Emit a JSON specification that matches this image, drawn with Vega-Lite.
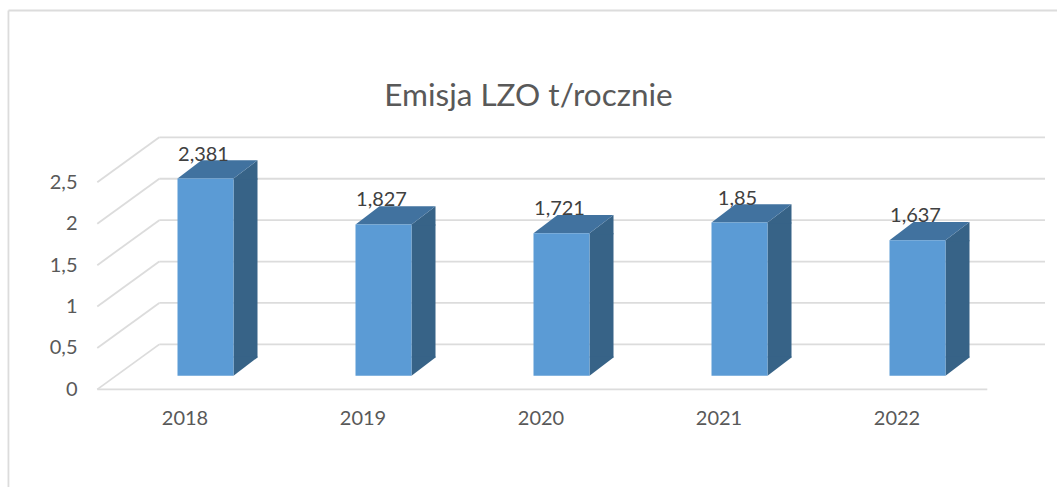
{
"$schema":"https://vega.github.io/schema/vega-lite/v6.json",
"width":1057,"height":487,"autosize":{"type":"none"},"padding":0,"background":"#ffffff",
"config":{"view":{"stroke":null},"locale":{"number":{"decimal":",","thousands":" ","grouping":[3],"currency":["","zł"]}},"font":"Lato"},
"title":{"text":"Emisja LZO t/rocznie","font":"Lato","fontSize":31.5,"fontWeight":"normal","color":"#595959","offset":-137,"baseline":"alphabetic","anchor":"middle"},
"datasets":{
"bars":[{"year":2018,"value":2.381},{"year":2019,"value":1.827},{"year":2020,"value":1.721},{"year":2021,"value":1.85},{"year":2022,"value":1.637}],
"ticks":[{"tick":0},{"tick":0.5},{"tick":1},{"tick":1.5},{"tick":2},{"tick":2.5}]
},
"layer":[
{"data":{"name":"ticks"},"mark":{"type":"rule","color":"#dcdcdc","strokeWidth":1.8,"yOffset":-45},
 "encoding":{"x":{"datum":2017.7404,"type":"quantitative","scale":{"domain":[2016.8455,2022.7837],"nice":false,"zero":false,"padding":0},
   "axis":{"values":[2018,2019,2020,2021,2022],"format":"d","title":null,"grid":false,"domain":false,"ticks":false,"orient":"bottom","offset":-69,"labelPadding":0,"labelBaseline":"middle","labelOffset":-21,"labelFontSize":20,"labelFont":"Lato","labelColor":"#595959"}},
  "x2":{"datum":2022.7163},
  "y":{"field":"tick","type":"quantitative","scale":{"domain":[-1.179,4.702],"nice":false,"zero":false,"padding":0},
   "axis":{"values":[0,0.5,1,1.5,2,2.5],"format":"~g","title":null,"grid":false,"domain":false,"ticks":false,"orient":"left","offset":-77,"labelPadding":0,"labelFontSize":20,"labelFont":"Lato","labelColor":"#595959"}}}},
{"data":{"name":"ticks"},"mark":{"type":"point","shape":"M0,0L62,-45","size":4,"filled":false,"stroke":"#dcdcdc","strokeWidth":1.8,"opacity":1},
 "encoding":{"x":{"datum":2017.392,"type":"quantitative","scale":{"domain":[2016.8455,2022.7837],"nice":false,"zero":false,"padding":0}},
  "y":{"field":"tick","type":"quantitative","scale":{"domain":[-1.179,4.702],"nice":false,"zero":false,"padding":0}}}},
{"data":{"values":[{"floor":0}]},"mark":{"type":"rule","color":"#dcdcdc","strokeWidth":1.8},
 "encoding":{"x":{"datum":2017.392,"type":"quantitative","scale":{"domain":[2016.8455,2022.7837],"nice":false,"zero":false,"padding":0}},"x2":{"datum":2022.392},
  "y":{"field":"floor","type":"quantitative","scale":{"domain":[-1.179,4.702],"nice":false,"zero":false,"padding":0}}}},
{"data":{"values":[{"edge":4.575}]},"mark":{"type":"rule","color":"#dcdcdc","strokeWidth":1.8},
 "encoding":{"x":{"datum":2016.893,"type":"quantitative","scale":{"domain":[2016.8455,2022.7837],"nice":false,"zero":false,"padding":0}},"x2":{"datum":2022.7837},
  "y":{"field":"edge","type":"quantitative","scale":{"domain":[-1.179,4.702],"nice":false,"zero":false,"padding":0}}}},
{"data":{"values":[{"edge":4.575}]},"mark":{"type":"rule","color":"#dcdcdc","strokeWidth":1.8},
 "encoding":{"x":{"datum":2016.893,"type":"quantitative","scale":{"domain":[2016.8455,2022.7837],"nice":false,"zero":false,"padding":0}},
  "y":{"field":"edge","type":"quantitative","scale":{"domain":[-1.179,4.702],"nice":false,"zero":false,"padding":0}},"y2":{"datum":-1.179}}},
{"data":{"name":"bars"},"mark":{"type":"bar","orient":"vertical","size":24,"color":"#376387","xOffset":40,"yOffset":-13.6,"y2Offset":-31.9},
 "encoding":{"x":{"field":"year","type":"quantitative","scale":{"domain":[2016.8455,2022.7837],"nice":false,"zero":false,"padding":0}},
  "y":{"field":"value","type":"quantitative","scale":{"domain":[-1.179,4.702],"nice":false,"zero":false,"padding":0}},"y2":{"datum":0}}},
{"data":{"name":"bars"},"mark":{"type":"point","shape":"M28,0L52,-18.3L52,1L28,1Z","size":4,"filled":true,"color":"#376387","opacity":1,"yOffset":-13.6},
 "encoding":{"x":{"field":"year","type":"quantitative","scale":{"domain":[2016.8455,2022.7837],"nice":false,"zero":false,"padding":0}},
  "y":{"field":"value","type":"quantitative","scale":{"domain":[-1.179,4.702],"nice":false,"zero":false,"padding":0}}}},
{"data":{"name":"bars"},"mark":{"type":"point","shape":"M28,0L28,-19.3L52,-19.3L52,-18.3Z","size":4,"filled":true,"color":"#376387","opacity":1,"yOffset":-13.6},
 "encoding":{"x":{"field":"year","type":"quantitative","scale":{"domain":[2016.8455,2022.7837],"nice":false,"zero":false,"padding":0}},
  "y":{"datum":0,"type":"quantitative","scale":{"domain":[-1.179,4.702],"nice":false,"zero":false,"padding":0}}}},
{"data":{"name":"bars"},"mark":{"type":"point","shape":"M-28,0L-4,-18.3L52,-18.3L28,0Z","size":4,"filled":true,"color":"#41729f","opacity":1,"yOffset":-13.6},
 "encoding":{"x":{"field":"year","type":"quantitative","scale":{"domain":[2016.8455,2022.7837],"nice":false,"zero":false,"padding":0}},
  "y":{"field":"value","type":"quantitative","scale":{"domain":[-1.179,4.702],"nice":false,"zero":false,"padding":0}}}},
{"data":{"name":"bars"},"mark":{"type":"bar","orient":"vertical","size":56,"color":"#5b9bd5","yOffset":-13.6,"y2Offset":-13.6},
 "encoding":{"x":{"field":"year","type":"quantitative","scale":{"domain":[2016.8455,2022.7837],"nice":false,"zero":false,"padding":0}},
  "y":{"field":"value","type":"quantitative","scale":{"domain":[-1.179,4.702],"nice":false,"zero":false,"padding":0}},"y2":{"datum":0}}},
{"data":{"name":"bars"},"mark":{"type":"text","font":"Lato","fontSize":20,"color":"#404040","baseline":"middle","align":"center","xOffset":-2,"yOffset":-37.6},
 "encoding":{"x":{"field":"year","type":"quantitative","scale":{"domain":[2016.8455,2022.7837],"nice":false,"zero":false,"padding":0}},
  "y":{"field":"value","type":"quantitative","scale":{"domain":[-1.179,4.702],"nice":false,"zero":false,"padding":0}},
  "text":{"field":"value","type":"quantitative","format":".4~g"}}}
]}
